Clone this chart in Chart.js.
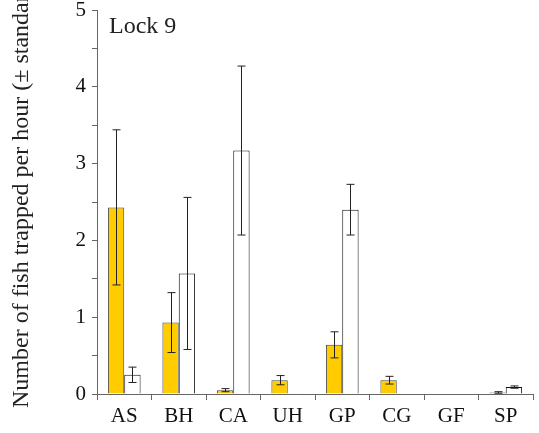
<!DOCTYPE html>
<html lang="en">
<head>
<meta charset="UTF-8">
<title>Lock 9</title>
<script src="https://cdn.jsdelivr.net/npm/chart.js"></script>
<style>
  html, body { margin: 0; padding: 0; background: #fff; }
  #wrap { width: 539px; height: 433px; position: relative; }
</style>
</head>
<body>
<div id="wrap"><canvas id="fishChart" width="539" height="433"></canvas></div>
<script>
// categories and values
const species = ['AS', 'BH', 'CA', 'UH', 'GP', 'CG', 'GF', 'SP'];
const yellowMeans = [2.43, 0.93, 0.05, 0.18, 0.64, 0.18, 0, 0.02];
const yellowErr   = [1.01, 0.39, 0.02, 0.06, 0.17, 0.05, 0, 0.01];
const whiteMeans  = [0.25, 1.57, 3.17, 0.01, 2.40, 0.005, 0, 0.09];
const whiteErr    = [0.10, 0.99, 1.10, 0, 0.33, 0, 0, 0.015];
const yTicks = [0, 1, 2, 3, 4, 5];
const yTitle = 'Number of fish trapped per hour (\u00b1 standard error)';
const panelLabel = 'Lock 9';

const serif = '"Liberation Serif", "DejaVu Serif", serif';

// error bars + text drawn on top
const extras = {
  id: 'extras',
  afterDatasetsDraw(chart) {
    const ctx = chart.ctx;
    const y = chart.scales.y;
    ctx.save();
    ctx.strokeStyle = '#222';
    ctx.lineWidth = 1;
    chart.data.datasets.forEach((ds, i) => {
      const meta = chart.getDatasetMeta(i);
      meta.data.forEach((bar, j) => {
        const e = ds.err[j];
        if (!e) return;
        const x = Math.round(bar.x) + 0.5;
        const top = y.getPixelForValue(ds.data[j] + e);
        const bot = y.getPixelForValue(Math.max(0, ds.data[j] - e));
        ctx.beginPath();
        ctx.moveTo(x, top); ctx.lineTo(x, bot);
        ctx.moveTo(x - 4, top); ctx.lineTo(x + 4, top);
        ctx.moveTo(x - 4, bot); ctx.lineTo(x + 4, bot);
        ctx.stroke();
      });
    });
    ctx.restore();
  },
  afterDraw(chart) {
    const ctx = chart.ctx;
    ctx.save();
    ctx.fillStyle = '#222';
    ctx.font = '24px ' + serif;
    ctx.textBaseline = 'alphabetic';
    ctx.fillText(panelLabel, 109, 33);
    ctx.translate(28, 408);
    ctx.rotate(-Math.PI / 2);
    ctx.textAlign = 'left';
    ctx.fillText(yTitle, 0, 0);
    ctx.restore();
  }
};

new Chart(document.getElementById('fishChart'), {
  type: 'bar',
  data: {
    labels: species,
    datasets: [
      {
        data: yellowMeans, err: yellowErr,
        backgroundColor: '#ffcc00', borderColor: '#444', borderWidth: 1,
        categoryPercentage: 0.6, barPercentage: 1.0
      },
      {
        data: whiteMeans, err: whiteErr,
        backgroundColor: '#ffffff', borderColor: '#111', borderWidth: 1,
        categoryPercentage: 0.6, barPercentage: 1.0
      }
    ]
  },
  options: {
    responsive: false,
    animation: false,
    layout: { padding: { top: 10, right: 6, left: 0, bottom: 0 } },
    plugins: { legend: { display: false }, tooltip: { enabled: false } },
    scales: {
      x: {
        grid: { display: true, drawOnChartArea: false, tickLength: 6, color: '#666', offset: true },
        border: { color: '#666' },
        ticks: { color: '#111', font: { family: serif, size: 21 }, padding: 4 },
        afterFit(s) { s.height = 39; s.paddingLeft = 0; s.paddingRight = 0; }
      },
      y: {
        min: 0, max: 5,
        grid: { drawOnChartArea: false, tickLength: 5, color: '#666' },
        border: { color: '#666' },
        ticks: {
          stepSize: 0.5,
          autoSkip: false,
          color: '#111',
          font: { family: serif, size: 21 },
          padding: 6,
          callback: v => (yTicks.includes(v) ? String(v) : '')
        },
        afterFit(s) { s.width = 97; s.paddingTop = 0; s.paddingBottom = 0; }
      }
    }
  },
  plugins: [extras]
});
</script>
</body>
</html>
